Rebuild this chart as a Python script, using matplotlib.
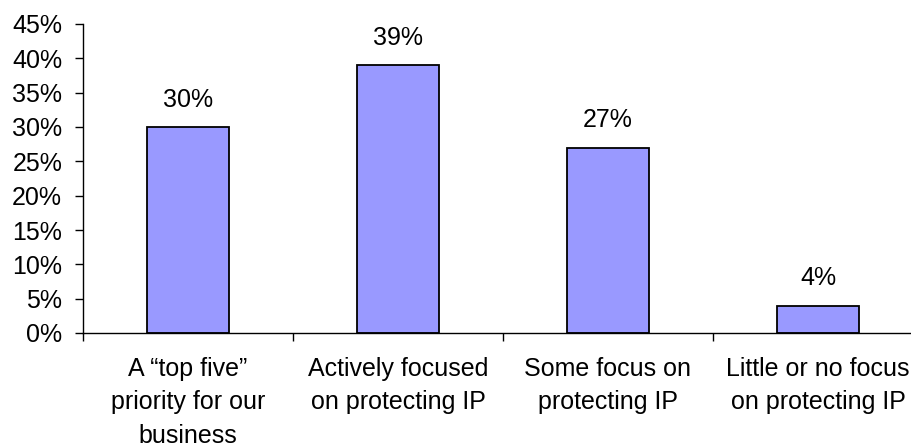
import matplotlib
matplotlib.use("Agg")
import matplotlib.pyplot as plt
from matplotlib.ticker import FuncFormatter, FixedLocator

categories = [
    "A \u201ctop five\u201d\npriority for our\nbusiness",
    "Actively focused\non protecting IP",
    "Some focus on\nprotecting IP",
    "Little or no focus\non protecting IP",
]
values = [30, 39, 27, 4]
value_labels = ["30%", "39%", "27%", "4%"]

plt.rcParams["font.family"] = ["Liberation Sans", "DejaVu Sans"]
FS = 18

fig = plt.figure(figsize=(9.11, 4.46), dpi=100)
ax = fig.add_axes([83 / 911, 113 / 446, 840 / 911, 309 / 446])

x = list(range(len(categories)))
ax.bar(x, values, width=0.395, color="#9999FF", edgecolor="black",
       linewidth=1.3, zorder=2)

for xi, v, lab in zip(x, values, value_labels):
    ax.annotate(lab, (xi, v), xytext=(0, 11), textcoords="offset points",
                ha="center", va="bottom", fontsize=FS)

ax.set_xlim(-0.5, len(categories) - 0.5)
ax.set_ylim(0, 45)
ax.yaxis.set_major_locator(FixedLocator(range(0, 46, 5)))
ax.yaxis.set_major_formatter(FuncFormatter(lambda v, p: f"{int(v)}%"))

# category boundaries carry the tick marks; labels sit at the centres
ax.xaxis.set_major_locator(FixedLocator([i - 0.5 for i in range(len(categories) + 1)]))
ax.xaxis.set_major_formatter(FuncFormatter(lambda v, p: ""))
ax.xaxis.set_minor_locator(FixedLocator(x))
ax.set_xticklabels(categories, minor=True)
ax.tick_params(axis="x", which="minor", length=0, pad=17, labelsize=FS)
ax.tick_params(axis="x", which="major", length=6, width=1, direction="out")
ax.tick_params(axis="y", length=6, width=1, direction="out", labelsize=FS, pad=9)
for lbl in ax.get_xticklabels(minor=True):
    lbl.set_linespacing(1.5)

for side in ("top", "right"):
    ax.spines[side].set_visible(False)
ax.spines["left"].set_linewidth(1)
ax.spines["bottom"].set_linewidth(1)

fig.savefig("out.png", dpi=100)
